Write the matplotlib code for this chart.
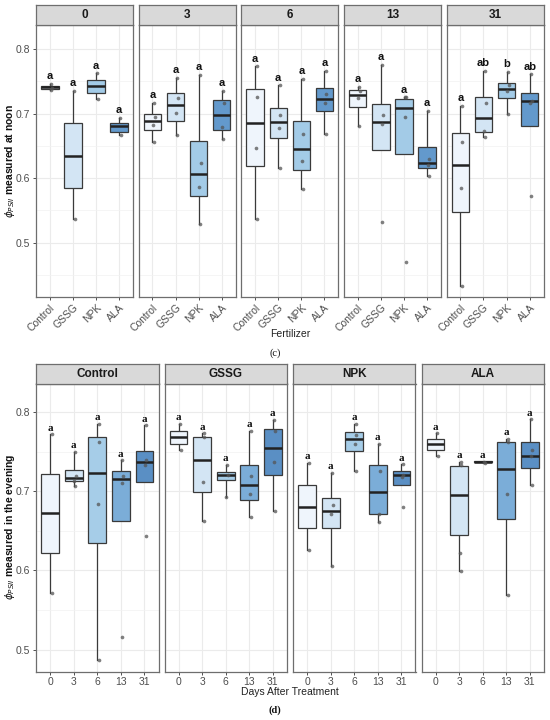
import matplotlib
matplotlib.use("Agg")
import matplotlib.pyplot as plt

plt.rcParams['font.family'] = ['Liberation Sans', 'DejaVu Sans']

# ---- datos (c): medido al mediodia, facetas por dia ----
noon_days = ['0', '3', '6', '13', '31']
noon_ferts = ['Control', 'GSSG', 'NPK', 'ALA']
# [dia][fertilizante] = (min bigote, q1, mediana, q3, max bigote)
noon_stats = [
    [(0.736, 0.738, 0.7405, 0.743, 0.746), (0.536, 0.585, 0.635, 0.685, 0.735),
     (0.723, 0.732, 0.742, 0.752, 0.762), (0.666, 0.672, 0.680, 0.686, 0.693)],
    [(0.656, 0.675, 0.688, 0.700, 0.717), (0.667, 0.688, 0.7126, 0.732, 0.755),
     (0.529, 0.572, 0.606, 0.658, 0.760), (0.661, 0.674, 0.698, 0.721, 0.735)],
    [(0.536, 0.618, 0.686, 0.738, 0.773), (0.616, 0.662, 0.687, 0.708, 0.744),
     (0.583, 0.613, 0.645, 0.688, 0.754), (0.668, 0.704, 0.723, 0.739, 0.766)],
    [(0.681, 0.710, 0.728, 0.736, 0.741), (0.643, 0.643, 0.687, 0.714, 0.775),
     (0.637, 0.637, 0.708, 0.723, 0.725), (0.604, 0.615, 0.624, 0.648, 0.704)],
    [(0.433, 0.547, 0.621, 0.670, 0.712), (0.664, 0.671, 0.693, 0.726, 0.766),
     (0.699, 0.724, 0.738, 0.748, 0.765), (0.680, 0.680, 0.719, 0.731, 0.761)],
]
noon_pts = [
    [[0.746, 0.740, 0.736], [0.735, 0.536], [0.762, 0.723], [0.693, 0.666]],
    [[0.717, 0.694, 0.682, 0.656], [0.755, 0.724, 0.701, 0.667],
     [0.760, 0.624, 0.587, 0.529], [0.735, 0.717, 0.679, 0.661]],
    [[0.773, 0.726, 0.646, 0.536], [0.744, 0.697, 0.677, 0.616],
     [0.754, 0.668, 0.626, 0.583], [0.766, 0.730, 0.716, 0.668]],
    [[0.741, 0.735, 0.724, 0.681], [0.775, 0.697, 0.683, 0.532],
     [0.725, 0.725, 0.694, 0.470], [0.704, 0.630, 0.620, 0.604]],
    [[0.712, 0.656, 0.585, 0.433], [0.766, 0.717, 0.673, 0.664],
     [0.765, 0.744, 0.735, 0.699], [0.761, 0.720, 0.716, 0.573]],
]
noon_letters = [['a'] * 4, ['a'] * 4, ['a'] * 4, ['a'] * 4, ['a', 'ab', 'b', 'ab']]

# ---- datos (d): medido en la tarde, facetas por fertilizante ----
eve_ferts = ['Control', 'GSSG', 'NPK', 'ALA']
eve_days = ['0', '3', '6', '13', '31']
eve_stats = [
    [(0.572, 0.622, 0.672, 0.722, 0.772), (0.707, 0.713, 0.717, 0.727, 0.750),
     (0.487, 0.635, 0.723, 0.768, 0.785), (0.662, 0.662, 0.715, 0.725, 0.739),
     (0.711, 0.711, 0.737, 0.751, 0.783)],
    [(0.752, 0.760, 0.768, 0.776, 0.785), (0.662, 0.699, 0.739, 0.768, 0.773),
     (0.693, 0.714, 0.721, 0.724, 0.733), (0.668, 0.689, 0.7075, 0.733, 0.776),
     (0.675, 0.721, 0.755, 0.779, 0.790)],
    [(0.626, 0.653, 0.680, 0.708, 0.736), (0.605, 0.654, 0.6755, 0.6915, 0.723),
     (0.726, 0.751, 0.766, 0.775, 0.785), (0.661, 0.671, 0.699, 0.733, 0.760),
     (0.708, 0.708, 0.720, 0.725, 0.734)],
    [(0.745, 0.752, 0.759, 0.766, 0.773), (0.599, 0.645, 0.6957, 0.732, 0.737),
     (0.736, 0.7365, 0.737, 0.7375, 0.738), (0.5695, 0.6645, 0.7285, 0.762, 0.766),
     (0.7075, 0.729, 0.744, 0.762, 0.791)],
]
eve_pts = [
    [[0.772, 0.572], [0.750, 0.719, 0.713, 0.707], [0.785, 0.762, 0.684, 0.487],
     [0.739, 0.719, 0.710, 0.516], [0.783, 0.740, 0.733, 0.644]],
    [[0.785, 0.752], [0.773, 0.768, 0.712, 0.662], [0.733, 0.721, 0.693],
     [0.776, 0.719, 0.697, 0.668], [0.790, 0.776, 0.737, 0.675]],
    [[0.736, 0.626], [0.723, 0.683, 0.671, 0.605], [0.785, 0.771, 0.760, 0.726],
     [0.760, 0.725, 0.671, 0.661], [0.734, 0.721, 0.718, 0.680]],
    [[0.773, 0.745], [0.737, 0.733, 0.622, 0.599], [0.737, 0.736],
     [0.766, 0.762, 0.697, 0.5695], [0.791, 0.752, 0.745, 0.7075]],
]
eve_letters = [['a'] * 5 for _ in range(4)]

# colores de relleno
colores_c = ['#EFF5FC', '#D3E5F4', '#A3CBE7', '#6399CC']
colores_d = ['#EFF5FC', '#D3E5F4', '#A6CDE8', '#7BADD8', '#5A8FC4']

W, H = 550, 720
fig = plt.figure(figsize=(5.5, 7.2), dpi=100)

gris_txt = '#4D4D4D'
borde = '#6E6E6E'


def dibujar_fila(stats, puntos, letras, titulos, etiquetas_x, colores,
                 x0, x1, gap, y_top, y_bot, strip_h, ylim, menores,
                 rot, letra_font, letra_off):
    n_pan = len(titulos)
    ancho = (x1 - x0 - gap * (n_pan - 1)) / n_pan
    ejes = []
    for i in range(n_pan):
        l = x0 + i * (ancho + gap)
        ax = fig.add_axes([l / W, 1 - y_bot / H, ancho / W, (y_bot - y_top) / H])
        n = len(etiquetas_x)
        pos = list(range(1, n + 1))
        bxs = []
        for s in stats[i]:
            bxs.append({'whislo': s[0], 'q1': s[1], 'med': s[2], 'q3': s[3],
                        'whishi': s[4], 'fliers': []})
        bp = ax.bxp(bxs, positions=pos, widths=0.75, patch_artist=True,
                    showcaps=False, showfliers=False,
                    boxprops=dict(edgecolor='#3A3A3A', linewidth=0.9),
                    whiskerprops=dict(color='#3A3A3A', linewidth=0.9),
                    medianprops=dict(color='#222222', linewidth=1.8))
        for caja, c in zip(bp['boxes'], colores):
            caja.set_facecolor(c)
            caja.set_zorder(2)
        for w in bp['whiskers']:
            w.set_zorder(1.5)
        desv = [0.06, 0.09, 0.03, 0.07]
        for j, p in enumerate(puntos[i]):
            xs = [pos[j] + desv[k % 4] for k in range(len(p))]
            ax.scatter(xs, p, s=7, color='#555555', alpha=0.75, linewidths=0, zorder=3)
            tope = max(max(p), stats[i][j][4])
            ax.text(pos[j], tope + letra_off, letras[i][j], ha='center', va='bottom',
                    fontsize=8, fontweight='bold', family=letra_font, color='#111111')
        ax.set_xlim(0.4, n + 0.6)
        ax.set_ylim(*ylim)
        ax.set_xticks(pos)
        if rot:
            ax.set_xticklabels(etiquetas_x, rotation=45, ha='right', rotation_mode='anchor')
        else:
            ax.set_xticklabels(etiquetas_x)
        ax.set_yticks([0.5, 0.6, 0.7, 0.8])
        ax.set_yticks(menores, minor=True)
        ax.tick_params(axis='both', labelsize=7.5, labelcolor=gris_txt, color='#333333',
                       length=2.5, width=0.6, pad=1.5)
        ax.tick_params(axis='y', which='minor', length=0)
        if i > 0:
            ax.tick_params(axis='y', left=False, labelleft=False)
        ax.grid(True, which='major', color='#EBEBEB', linewidth=0.8, zorder=0)
        ax.grid(True, which='minor', axis='y', color='#F2F2F2', linewidth=0.5, zorder=0)
        ax.set_axisbelow(True)
        for sp in ax.spines.values():
            sp.set_color(borde)
            sp.set_linewidth(0.9)
        # tira con el titulo de la faceta
        st = fig.add_axes([l / W, 1 - y_top / H, ancho / W, strip_h / H])
        st.set_facecolor('#D9D9D9')
        st.set_xticks([])
        st.set_yticks([])
        for sp in st.spines.values():
            sp.set_color(borde)
            sp.set_linewidth(0.9)
        st.text(0.5, 0.48, titulos[i], ha='center', va='center', fontsize=8.5,
                fontweight='bold', color='#1A1A1A', transform=st.transAxes)
        ejes.append(ax)
    return ejes


dibujar_fila(noon_stats, noon_pts, noon_letters, noon_days, noon_ferts, colores_c,
             36, 543.5, 5.7, 25, 297, 20, (0.416, 0.837), [0.45, 0.55, 0.65, 0.75],
             True, 'Liberation Sans', 0.004)

dibujar_fila(eve_stats, eve_pts, eve_letters, eve_ferts, eve_days, colores_d,
             36, 544, 6, 383.5, 671.7, 19.5, (0.472, 0.836), [0.55, 0.65, 0.75],
             False, 'Liberation Serif', 0.002)

fig.text(10 / W, 1 - 161 / H, r'$\phi_{PSII}$ measured at noon', rotation=90,
         ha='center', va='center', fontsize=7.5, fontweight='bold', color='#111111')
fig.text(10 / W, 1 - 527 / H, r'$\phi_{PSII}$ measured in the evening', rotation=90,
         ha='center', va='center', fontsize=7.5, fontweight='bold', color='#111111')
fig.text(290 / W, 1 - 334 / H, 'Fertilizer', ha='center', va='center', fontsize=7.5,
         color='#222222')
fig.text(290 / W, 1 - 692 / H, 'Days After Treatment', ha='center', va='center',
         fontsize=7.5, color='#222222')
fig.text(275 / W, 1 - 353 / H, '(c)', ha='center', va='center', fontsize=7.5,
         family='Liberation Serif', color='#111111')
fig.text(275 / W, 1 - 710 / H, '(d)', ha='center', va='center', fontsize=7.5,
         family='Liberation Serif', fontweight='bold', color='#111111')

fig.savefig('out.png', dpi=100)
